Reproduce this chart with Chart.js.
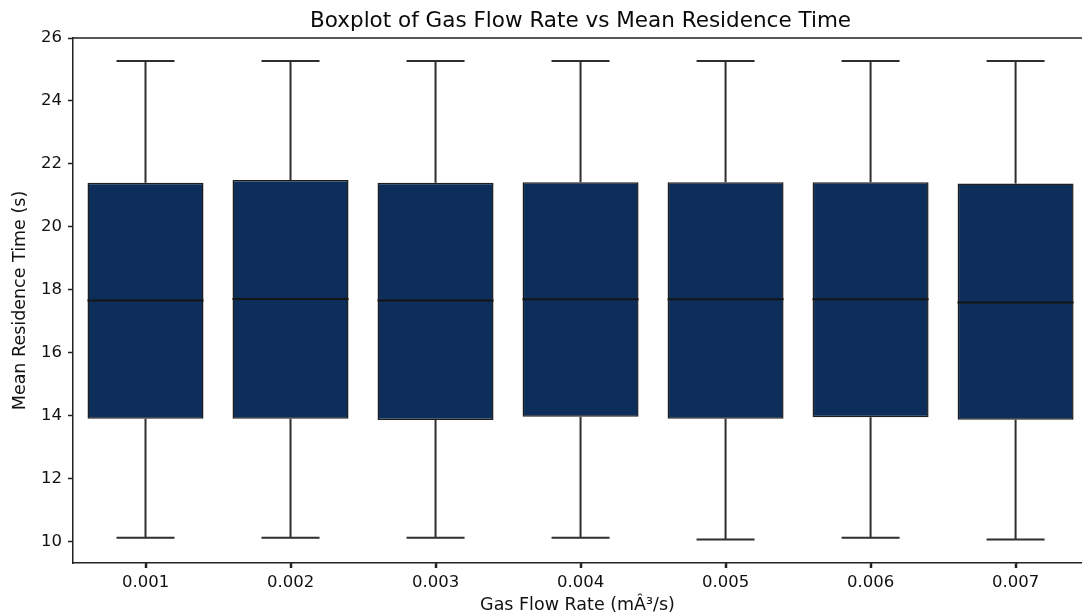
<!DOCTYPE html>
<html>
<head>
<meta charset="utf-8">
<script src="https://cdn.jsdelivr.net/npm/chart.js@4.4.1/dist/chart.umd.min.js"></script>
<style>
  html, body { margin: 0; padding: 0; background: #fff; }
  #wrap { width: 1082px; height: 616px; position: relative; }
</style>
</head>
<body>
<div id="wrap"><canvas id="c" width="1082" height="616"></canvas></div>
<script>
// ---- Data ----
const categories = ['0.001', '0.002', '0.003', '0.004', '0.005', '0.006', '0.007'];
const whiskerLow  = [10.12, 10.12, 10.12, 10.12, 10.07, 10.12, 10.07];
const q1Values    = [13.90, 13.90, 13.86, 13.97, 13.90, 13.95, 13.87];
const medianVals  = [17.66, 17.71, 17.66, 17.70, 17.70, 17.70, 17.60];
const q3Values    = [21.40, 21.49, 21.40, 21.42, 21.42, 21.42, 21.38];
const whiskerHigh = [25.27, 25.27, 25.27, 25.27, 25.27, 25.27, 25.27];
const yTickValues = [10, 12, 14, 16, 18, 20, 22, 24, 26];

const chartTitle = 'Boxplot of Gas Flow Rate vs Mean Residence Time';
const xTitle = 'Gas Flow Rate (mÂ³/s)';
const yTitle = 'Mean Residence Time (s)';

const FONT = "'DejaVu Sans', sans-serif";
const BOX_FILL = '#0d2d5a';
const EDGE = '#1e1e1e';
const WHISK = '#2e2e2e';

const boxData = categories.map((c, i) => ({ x: i, y: [q1Values[i], q3Values[i]] }));

const boxplotPlugin = {
  id: 'boxplotExtras',
  beforeDatasetsDraw(chart) {
    const { ctx, scales: { x, y } } = chart;
    ctx.save();
    ctx.strokeStyle = WHISK;
    ctx.lineWidth = 2;
    const capHalf = (x.getPixelForValue(1) - x.getPixelForValue(0)) * 0.2;
    categories.forEach((c, i) => {
      const px = x.getPixelForValue(i);
      const pLo = y.getPixelForValue(whiskerLow[i]);
      const pQ1 = y.getPixelForValue(q1Values[i]);
      const pQ3 = y.getPixelForValue(q3Values[i]);
      const pHi = y.getPixelForValue(whiskerHigh[i]);
      ctx.beginPath();
      ctx.moveTo(px, pQ3); ctx.lineTo(px, pHi);
      ctx.moveTo(px - capHalf, pHi); ctx.lineTo(px + capHalf, pHi);
      ctx.moveTo(px, pQ1); ctx.lineTo(px, pLo);
      ctx.moveTo(px - capHalf, pLo); ctx.lineTo(px + capHalf, pLo);
      ctx.stroke();
    });
    ctx.restore();
  },
  afterDatasetsDraw(chart) {
    const { ctx, scales: { x, y }, chartArea } = chart;
    ctx.save();
    ctx.strokeStyle = '#151515';
    ctx.lineWidth = 2;
    const boxHalf = (x.getPixelForValue(1) - x.getPixelForValue(0)) * 0.4;
    categories.forEach((c, i) => {
      const px = x.getPixelForValue(i);
      const pm = y.getPixelForValue(medianVals[i]);
      ctx.beginPath();
      ctx.moveTo(px - boxHalf, pm); ctx.lineTo(px + boxHalf, pm);
      ctx.stroke();
    });
    ctx.restore();
  },
  afterDraw(chart) {
    const { ctx, scales: { x }, chartArea } = chart;
    ctx.save();
    ctx.strokeStyle = '#222';
    ctx.lineWidth = 1.5;
    // top spine
    ctx.beginPath();
    ctx.moveTo(chartArea.left, chartArea.top);
    ctx.lineTo(chartArea.right, chartArea.top);
    // x tick marks at category centres
    categories.forEach((c, i) => {
      const px = Math.round(x.getPixelForValue(i)) + 0.5;
      ctx.moveTo(px, chartArea.bottom);
      ctx.lineTo(px, chartArea.bottom + 5);
    });
    ctx.stroke();
    // chart title centered on the axes
    ctx.fillStyle = '#0a0a0a';
    ctx.font = "21.5px " + FONT;
    ctx.textAlign = 'center';
    ctx.textBaseline = 'alphabetic';
    ctx.fillText(chartTitle, x.getPixelForValue(3), 27);
    ctx.restore();
  }
};

new Chart(document.getElementById('c'), {
  type: 'bar',
  data: {
    datasets: [{
      data: boxData,
      backgroundColor: BOX_FILL,
      borderColor: EDGE,
      borderWidth: 1.5,
      borderSkipped: false,
      categoryPercentage: 1.0,
      barPercentage: 0.8
    }]
  },
  options: {
    responsive: false,
    animation: false,
    layout: { padding: { top: 38, right: 0, left: 0, bottom: 0 } },
    plugins: { legend: { display: false }, tooltip: { enabled: false }, title: { display: false } },
    scales: {
      x: {
        type: 'linear',
        min: -0.5,
        max: 6.458,
        offset: false,
        afterBuildTicks(scale) { scale.ticks = categories.map((c, i) => ({ value: i })); },
        afterFit(scale) { scale.height = 53; },
        ticks: {
          callback: (v) => categories[v],
          font: { family: FONT, size: 16.5 },
          color: '#111',
          padding: 5,
          maxRotation: 0,
          autoSkip: false
        },
        grid: { display: true, offset: false, drawOnChartArea: false, drawTicks: true, tickLength: 5, color: '#222', tickWidth: 1.5 },
        border: { display: true, color: '#222', width: 1.5 },
        title: { display: true, text: xTitle, font: { family: FONT, size: 17.5 }, color: '#111', padding: { top: 0, bottom: 0 } }
      },
      y: {
        type: 'linear',
        min: 9.32,
        max: 26,
        afterBuildTicks(scale) { scale.ticks = yTickValues.map(v => ({ value: v })); },
        afterFit(scale) { scale.width = 73; },
        ticks: {
          font: { family: FONT, size: 16.5 },
          color: '#111',
          padding: 6
        },
        grid: { display: true, offset: false, drawOnChartArea: false, drawTicks: true, tickLength: 5, color: '#222', tickWidth: 1.5 },
        border: { display: true, color: '#222', width: 1.5 },
        title: { display: true, text: yTitle, font: { family: FONT, size: 17.5 }, color: '#111', padding: { top: 10, bottom: 0 } }
      }
    }
  },
  plugins: [boxplotPlugin]
});
</script>
</body>
</html>
